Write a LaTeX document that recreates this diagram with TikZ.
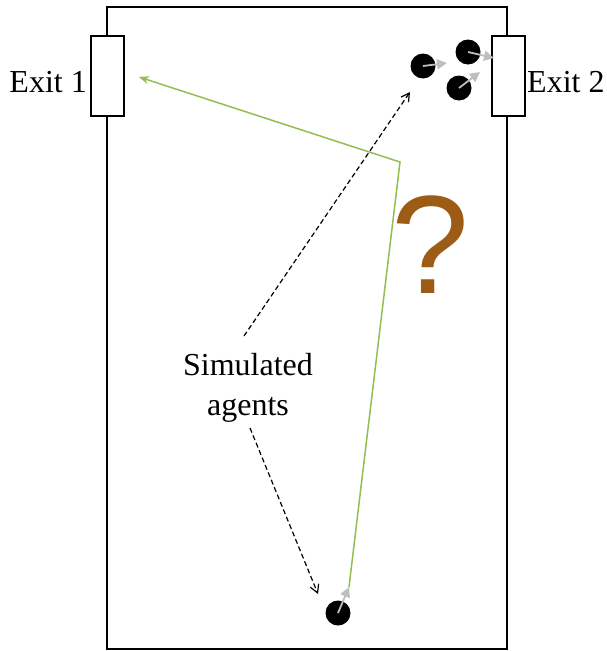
\documentclass[tikz,border=0pt]{standalone}
\usepackage{fontspec}
\setmainfont{Liberation Serif}
\newfontfamily\qfont{Liberation Sans}
\usetikzlibrary{arrows.meta}
\definecolor{pathgreen}{RGB}{146,190,80}
\definecolor{qbrown}{RGB}{156,92,22}
\definecolor{headgray}{RGB}{190,190,190}
\begin{document}
\begin{tikzpicture}[x=1pt,y=-1pt,
  room/.style={draw=black,line width=2pt},
  exitbox/.style={draw=black,fill=white,line width=2pt,minimum width=33pt,minimum height=80pt,inner sep=0pt},
  agent/.style={circle,fill=black,minimum size=25pt,inner sep=0pt},
  heading/.style={draw=headgray,line width=1.8pt,-{Triangle[length=10pt,width=10pt]}},
  route/.style={draw=pathgreen,line width=1.5pt,-{Stealth[length=10pt,width=8pt]}},
  pointer/.style={draw=black,line width=1.2pt,dash pattern=on 5pt off 3pt,-{Straight Barb[length=8pt,width=9pt]}},
  lbl/.style={font=\fontsize{32}{40}\selectfont,inner sep=0pt}]
\useasboundingbox (0,0) rectangle (607,651);
\draw[room] (107,7) rectangle (507,649);
\node[exitbox] (exitA) at (107,76) {};
\node[exitbox] (exitB) at (508,76) {};
\node[lbl,anchor=east] (labA) at (87,82) {Exit 1};
\node[lbl,anchor=west] (labB) at (527,82) {Exit 2};
% agents
\node[agent] (a1) at (423,66) {};
\node[agent] (a2) at (468,52) {};
\node[agent] (a3) at (459,88) {};
\node[agent] (a4) at (338,613) {};
\coordinate (h1) at (447,63);
\coordinate (h2) at (494,58);
\coordinate (h3) at (480,72);
\coordinate (h4) at (349,587);
% green route
\coordinate (turn) at (400,162);
\coordinate (goal) at (139,77);
\draw[route] (h4) -- (turn) -- (goal);
\draw[heading] (a1.center) -- (h1);
\draw[heading] (a2.center) -- (h2);
\draw[heading] (a3.center) -- (h3);
\draw[heading] (a4.center) -- (h4);
% question mark
\node[text=qbrown,font=\qfont\fontsize{140}{142}\selectfont,inner sep=0pt] (q) at (430,245) {?};
% label
\node[lbl,align=center] (sim) at (248,388) {Simulated\\agents};
\coordinate (s1) at (244,336);
\coordinate (s2) at (250,428);
\coordinate (t1) at (410,92);
\coordinate (t2) at (318,594);
\draw[pointer] (s1) -- (t1);
\draw[pointer] (s2) -- (t2);
\end{tikzpicture}
\end{document}
